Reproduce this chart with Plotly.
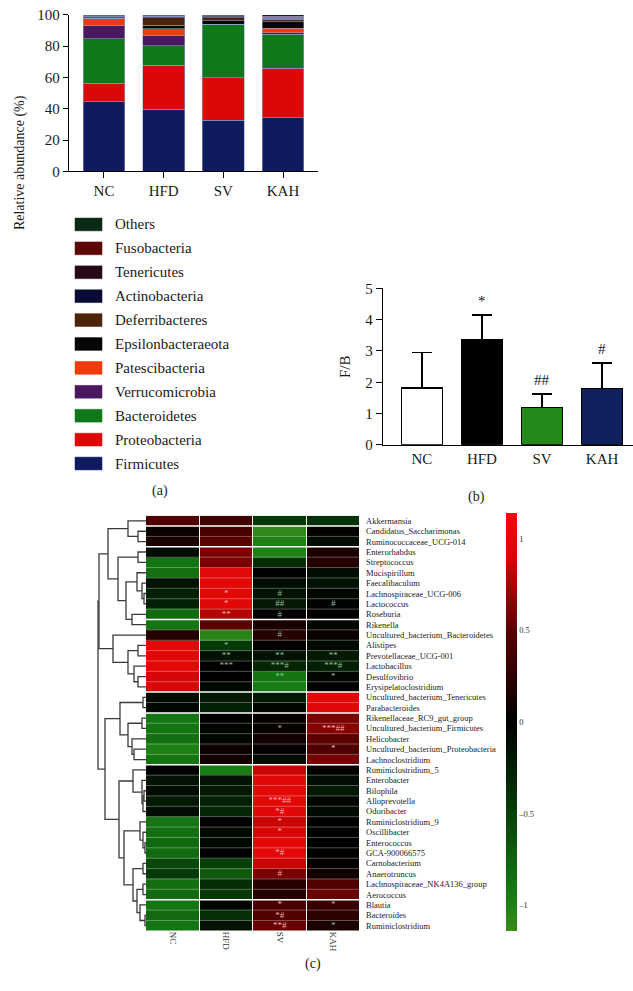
import plotly.graph_objects as go

W, H = 633, 991
FONT = "Liberation Serif"

# ---- panel (a): relative abundance at phylum level ----
groups = ["NC", "HFD", "SV", "KAH"]
phyla = ["Firmicutes", "Proteobacteria", "Bacteroidetes", "Verrucomicrobia", "Patescibacteria",
         "Epsilonbacteraeota", "Deferribacteres", "Actinobacteria", "Tenericutes", "Fusobacteria", "Others"]
phylum_colors = ["#101a5e", "#dc0808", "#0f781a", "#4a1860", "#ee3c0c",
                 "#060606", "#4c240a", "#0a0a36", "#260818", "#5c0808", "#0a2a14"]
firmicutes = [44.4, 39.6, 32.7, 34.2]
proteobacteria = [11.8, 28.1, 27.0, 31.8]
bacteroidetes = [28.5, 12.6, 34.0, 21.6]
verrucomicrobia = [8.2, 6.3, 0.2, 0.9]
patescibacteria = [4.6, 4.6, 0.2, 2.9]
epsilonbacteraeota = [0.4, 2.3, 2.3, 4.2]
deferribacteres = [0.3, 4.6, 1.7, 1.5]
actinobacteria = [0.9, 0.6, 0.8, 0.9]
tenericutes = [0.3, 0.5, 0.4, 0.6]
fusobacteria = [0.2, 0.3, 0.3, 0.5]
others = [0.4, 0.5, 0.4, 0.9]
abundance = [firmicutes, proteobacteria, bacteroidetes, verrucomicrobia, patescibacteria,
             epsilonbacteraeota, deferribacteres, actinobacteria, tenericutes, fusobacteria, others]

# ---- panel (b): F/B ratio ----
fb_mean = [1.82, 3.36, 1.20, 1.80]
fb_sd = [1.13, 0.79, 0.43, 0.82]
fb_sig = ["", "*", "##", "#"]
fb_colors = ["#ffffff", "#000000", "#238a1a", "#10205e"]

# ---- panel (c): genus heatmap ----
genera = ["Akkermansia", "Candidatus_Saccharimonas", "Ruminococcaceae_UCG-014", "Enterorhabdus",
          "Streptococcus", "Mucispirillum", "Faecalibaculum", "Lachnospiraceae_UCG-006", "Lactococcus",
          "Roseburia", "Rikenella", "Uncultured_bacterium_Bacteroidetes", "Alistipes",
          "Prevotellaceae_UCG-001", "Lactobacillus", "Desulfovibrio", "Erysipelatoclostridium",
          "Uncultured_bacterium_Tenericutes", "Parabacteroides", "Rikenellaceae_RC9_gut_group",
          "Uncultured_bacterium_Firmicutes", "Helicobacter", "Uncultured_bacterium_Proteobacteria",
          "Lachnoclostridium", "Ruminiclostridium_5", "Enterobacter", "Bilophila", "Alloprevotella",
          "Odoribacter", "Ruminiclostridium_9", "Oscillibacter", "Enterococcus", "GCA-900066575",
          "Carnobacterium", "Anaerotruncus", "Lachnospiraceae_NK4A136_group", "Aerococcus",
          "Blautia", "Bacteroides", "Ruminiclostridium"]
nc_z = [0.45, 0.05, 0.15, -0.1, -0.9, -0.85, -0.15, -0.25, -0.25, -0.8,
        -0.9, 0.2, 1.0, 1.0, 1.0, 0.9, 0.9, -0.1, -0.05, -0.9,
        -0.9, -0.85, -1.0, -0.9, 0.0, -0.15, -0.1, -0.2, -0.1, -0.9,
        -0.85, -0.8, -0.8, -0.55, -0.45, -0.85, -0.8, -0.9, -0.8, -0.9]
hfd_z = [0.35, 0.4, 0.5, 0.6, 0.6, 1.0, 1.0, 1.0, 1.0, 0.8,
         0.5, -1.05, -0.45, -0.15, 0.0, 0.0, -0.08, -0.2, -0.25, 0.0,
         -0.05, -0.05, 0.08, 0.1, -0.95, -0.15, -0.2, -0.25, -0.3, 0.0,
         -0.08, -0.08, -0.02, -0.5, -0.7, -0.35, -0.45, -0.03, -0.35, -0.15]
sv_z = [-0.45, -1.1, -1.0, -1.0, -0.35, 0.0, -0.1, -0.15, -0.2, 0.02,
        0.15, 0.2, 0.0, -0.15, -0.3, -0.9, -0.95, -0.2, -0.05, 0.03,
        0.05, 0.1, 0.03, -0.1, 0.85, 1.0, 1.0, 1.0, 1.0, 0.85,
        0.9, 1.0, 1.0, 0.85, 0.6, 0.25, 0.2, 0.4, 0.45, 0.55]
kah_z = [-0.4, 0.02, -0.1, 0.15, 0.2, -0.1, -0.15, -0.05, -0.03, 0.0,
         -0.05, 0.05, -0.08, -0.2, -0.25, -0.05, 0.0, 1.0, 1.0, 0.6,
         0.65, 0.5, 0.45, 0.6, 0.02, -0.1, -0.2, -0.05, -0.08, 0.0,
         0.0, 0.0, 0.0, 0.03, 0.1, 0.45, 0.55, 0.3, 0.25, 0.15]
nc_sig = [""] * 40
hfd_sig = ["", "", "", "", "", "", "", "*", "*", "**",
           "", "", "*", "**", "***", "", "", "", "", "",
           "", "", "", "", "", "", "", "", "", "",
           "", "", "", "", "", "", "", "", "", ""]
sv_sig = ["", "", "", "", "", "", "", "#", "##", "#",
          "", "#", "", "**", "***#", "**", "", "", "", "",
          "*", "", "", "", "", "", "", "***##", "*#", "*",
          "*", "", "*#", "", "#", "", "", "*", "*#", "**#"]
kah_sig = ["", "", "", "", "", "", "", "", "#", "",
           "", "", "", "**", "***#", "*", "", "", "", "",
           "***##", "", "*", "", "", "", "", "", "", "",
           "", "", "", "", "", "", "", "*", "", "*"]
# white separators after these rows (cluster breaks)
cluster_breaks = [1, 3, 10, 17, 19, 24, 37]

# hierarchical clustering of the rows: [left, right, height]; new ids start at 40
linkage = [
    [1, 2, 8], [0, 40, 18], [3, 4, 8], [7, 8, 2], [6, 43, 4], [5, 44, 9], [9, 10, 14],
    [45, 46, 20], [42, 47, 28], [41, 48, 38], [12, 13, 8], [15, 16, 8], [14, 51, 12],
    [50, 52, 18], [11, 53, 33], [49, 54, 47], [17, 18, 3], [19, 20, 4], [22, 23, 12],
    [21, 58, 14], [57, 59, 18], [56, 60, 26], [26, 27, 2], [62, 28, 3], [25, 63, 4],
    [24, 64, 13], [31, 32, 1], [30, 66, 3], [29, 67, 6], [33, 34, 3], [35, 36, 3],
    [38, 39, 1], [37, 71, 6], [70, 72, 9], [69, 73, 13], [68, 74, 22], [65, 75, 27],
    [61, 76, 41], [55, 77, 48],
]


def px(x):
    return x / W


def py(y):
    return 1 - y / H


fig = go.Figure()

# (a) stacked bars
for name, vals, col in zip(phyla, abundance, phylum_colors):
    fig.add_trace(go.Bar(x=groups, y=vals, name=name, marker_color=col, width=0.7,
                         marker_line=dict(color="rgba(150,160,205,0.7)", width=0.8),
                         xaxis="x", yaxis="y", showlegend=False))

# (b) F/B bars with upward error bars
fig.add_trace(go.Bar(x=groups, y=fb_mean, width=0.68, marker_color=fb_colors,
                     marker_line=dict(color="black", width=1.5),
                     error_y=dict(type="data", array=fb_sd, arrayminus=[0] * 4, symmetric=False,
                                  color="black", thickness=1.5, width=10),
                     xaxis="x2", yaxis="y2", showlegend=False))

# (c) heatmap
z = [[nc_z[i], hfd_z[i], sv_z[i], kah_z[i]] for i in range(len(genera))]
scale = [[0, "#3a8a1a"], [0.08, "#167e14"], [0.3, "#063a08"], [0.5, "#000000"],
         [0.72, "#5a0000"], [0.9, "#dc0606"], [1, "#ee0a0a"]]
fig.add_trace(go.Heatmap(z=z, x=list(range(4)), y=list(range(len(genera))), colorscale=scale,
                         zmin=-1.14, zmax=1.14, xgap=1, xaxis="x3", yaxis="y3",
                         colorbar=dict(x=px(506), xanchor="left", xpad=0, ypad=0, thickness=11,
                                       len=425 / H, y=py(938), yanchor="bottom", outlinewidth=0,
                                       tickvals=[-1, -0.5, 0, 0.5, 1], ticktext=["–1", "–0.5", "0", "0.5", "1"],
                                       tickfont=dict(family=FONT, size=8.5, color="#333"))))

# significance marks on cells
sx, sy, st, sc = [], [], [], []
for j, col in enumerate([nc_sig, hfd_sig, sv_sig, kah_sig]):
    for i, s in enumerate(col):
        if s:
            sx.append(j)
            sy.append(i)
            st.append(s)
            sc.append("rgba(255,190,190,0.95)" if z[i][j] > 0.3 else "rgba(165,215,165,0.9)")
fig.add_trace(go.Scatter(x=sx, y=sy, text=st, mode="text", textfont=dict(family=FONT, size=9, color=sc),
                         xaxis="x3", yaxis="y3", showlegend=False, hoverinfo="skip"))

# dendrogram
nodes = {i: (i, 0) for i in range(len(genera))}
dx, dy = [], []
for k, (a, b, h) in enumerate(linkage):
    ya, ha = nodes[a]
    yb, hb = nodes[b]
    dx += [ha, h, h, hb, None]
    dy += [ya, ya, yb, yb, None]
    nodes[len(genera) + k] = ((ya + yb) / 2, h)
fig.add_trace(go.Scatter(x=dx, y=dy, mode="lines", line=dict(color="#3a3a3a", width=1.3),
                         xaxis="x4", yaxis="y3", showlegend=False, hoverinfo="skip"))

shapes = []
for i in range(len(genera) - 1):
    brk = (i + 1) in cluster_breaks
    shapes.append(dict(type="line", xref="x3", yref="y3", x0=-0.5, x1=3.5, y0=i + 0.5, y1=i + 0.5,
                       line=dict(color="white" if brk else "rgba(255,255,255,0.4)", width=1.5 if brk else 0.8)))

# legend for panel (a)
annotations = []
for k, name in enumerate(reversed(phyla)):
    col = phylum_colors[len(phyla) - 1 - k]
    yc = 220 + k * 24.3
    shapes.append(dict(type="rect", xref="paper", yref="paper", x0=px(75), x1=px(102),
                       y0=py(yc + 6.5), y1=py(yc - 6.5), fillcolor=col, line=dict(color=col, width=0.5)))
    annotations.append(dict(x=px(113), y=py(yc), xref="paper", yref="paper", text=name, showarrow=False,
                            xanchor="left", yanchor="middle", font=dict(family=FONT, size=15, color="#1a1a1a")))

for g, m, s, t in zip(groups, fb_mean, fb_sd, fb_sig):
    if t:
        annotations.append(dict(x=g, y=m + s, xref="x2", yref="y2", text=t, showarrow=False,
                                yanchor="bottom", yshift=4, font=dict(family=FONT, size=15, color="#1a1a1a")))

annotations += [
    dict(x=px(10), y=py(87), xref="paper", yref="paper", text="Relative abundance (%)", textangle=-90,
         showarrow=False, font=dict(family=FONT, size=14, color="#1a1a1a")),
    dict(x=px(345), y=py(365), xref="paper", yref="paper", text="F/B", textangle=-90,
         showarrow=False, font=dict(family=FONT, size=15, color="#1a1a1a")),
    dict(x=px(150), y=py(491), xref="paper", yref="paper", text="(a)", showarrow=False,
         font=dict(family=FONT, size=14, color="#1a1a1a")),
    dict(x=px(487), y=py(497), xref="paper", yref="paper", text="(b)", showarrow=False,
         font=dict(family=FONT, size=14, color="#1a1a1a")),
    dict(x=px(313), y=py(982), xref="paper", yref="paper", text="(c)", showarrow=False,
         font=dict(family=FONT, size=14, color="#1a1a1a")),
]

axfont = dict(family=FONT, size=15, color="#1a1a1a")
common = dict(showline=True, linecolor="black", linewidth=1.3, ticks="outside", tickcolor="black",
              showgrid=False, zeroline=False, tickfont=axfont)

fig.update_layout(
    width=W, height=H, margin=dict(l=0, r=0, t=0, b=0), paper_bgcolor="white", plot_bgcolor="white",
    barmode="stack", showlegend=False, shapes=shapes, annotations=annotations,
    xaxis=dict(domain=[px(69), px(318)], anchor="y", range=[-0.586, 3.586], ticklen=6, **common),
    yaxis=dict(domain=[py(166), py(7)], anchor="x", range=[0, 100], dtick=20, ticklen=5, **common),
    xaxis2=dict(domain=[px(383), 1.0], anchor="y2", range=[-0.647, 3.514], ticklen=0, **common),
    yaxis2=dict(domain=[py(444), py(285)], anchor="x2", range=[0, 5], dtick=1, ticklen=6, **common),
    xaxis3=dict(domain=[px(146), px(360)], anchor="y3", range=[-0.5, 3.5], tickvals=list(range(4)),
                ticktext=groups, tickangle=90, ticks="", showgrid=False, zeroline=False,
                tickfont=dict(family=FONT, size=9, color="#333")),
    yaxis3=dict(domain=[py(938), py(516)], anchor="x3", range=[39.5, -0.5], side="right",
                tickvals=list(range(len(genera))), ticktext=genera, ticks="", ticklabelstandoff=5,
                showgrid=False, zeroline=False, tickfont=dict(family=FONT, size=8.5, color="#222")),
    xaxis4=dict(domain=[px(96), px(146)], anchor="y3", range=[50, 0], visible=False),
)

# the page is photographed at 633x991, so drop the default body margin
fig.write_html("out.html", config={"displayModeBar": False},
               post_script="document.body.style.margin='0';document.body.style.overflow='hidden';")
